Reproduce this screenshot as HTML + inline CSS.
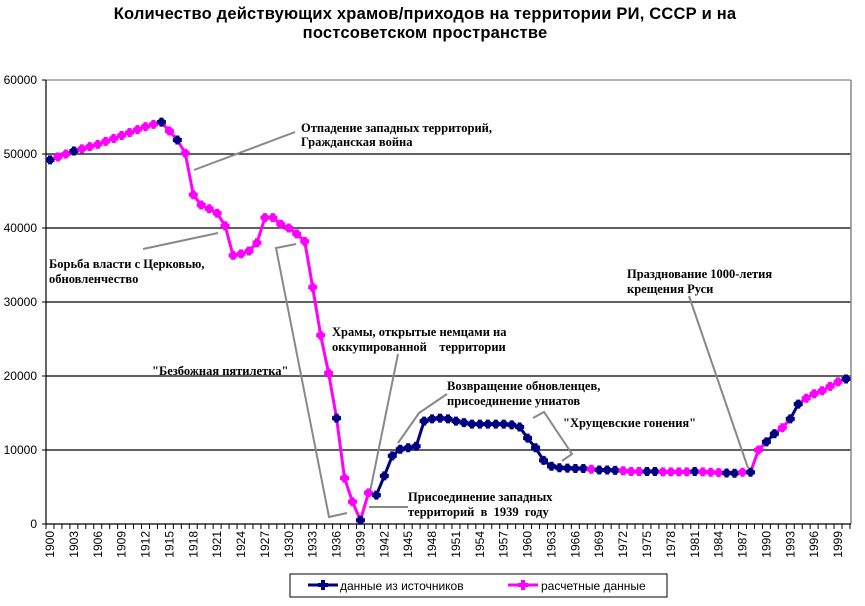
<!DOCTYPE html>
<html><head><meta charset="utf-8"><style>
html,body{margin:0;padding:0;background:#fff;width:865px;height:606px;overflow:hidden}
svg{display:block}
.t{font-family:"Liberation Sans",Arial,sans-serif;font-weight:bold;font-size:16.5px;letter-spacing:0.2px}
.ax{font-family:"Liberation Sans",Arial,sans-serif;font-size:12px}
.an{font-family:"Liberation Serif","Times New Roman",serif;font-weight:bold;font-size:12.5px}
</style></head><body>
<svg id="s" width="865" height="606" xmlns="http://www.w3.org/2000/svg">
<text class="t" x="425" y="19" text-anchor="middle">Количество действующих храмов/приходов на территории РИ, СССР и на</text>
<text class="t" x="425" y="38" text-anchor="middle">постсоветском пространстве</text>
<g id="grid"></g>
<line x1="851" y1="80" x2="851" y2="524" stroke="#888" stroke-width="1.5"/>
<line x1="46" y1="80" x2="46" y2="524" stroke="#000" stroke-width="1.2"/>
<line x1="46" y1="524" x2="851" y2="524" stroke="#000" stroke-width="1.2"/>
<g id="ann" stroke="#888" stroke-width="2" fill="none">
<polyline points="295,132 194,170"/>
<polyline points="143,249 218,233"/>
<polyline points="296,244 276,248 329,517 347,513"/>
<polyline points="398,354 370,492"/>
<polyline points="369,507 408,507"/>
<polyline points="447,394 419,413 398,443"/>
<polyline points="533,418 544,412 572,454 562,461"/>
<polyline points="689,296 748,468"/>
</g>
<g class="an">
<text x="301" y="132">Отпадение западных территорий,</text>
<text x="301" y="146">Гражданская война</text>
<text x="49" y="268">Борьба власти с Церковью,</text>
<text x="49" y="283">обновленчество</text>
<text x="152" y="375">"Безбожная пятилетка"</text>
<text x="332" y="336">Храмы, открытые немцами на</text>
<text x="332" y="351">оккупированной&#160;&#160;&#160;&#160;территории</text>
<text x="447" y="390">Возвращение обновленцев,</text>
<text x="447" y="405">присоединение униатов</text>
<text x="563" y="427">"Хрущевские гонения"</text>
<text x="408" y="501">Присоединение западных</text>
<text x="408" y="516">территорий&#160; в&#160; 1939&#160; году</text>
<text x="627" y="278">Празднование 1000-летия</text>
<text x="627" y="293">крещения Руси</text>
</g>
<g id="data"></g>
<g id="xl"></g>
<rect x="290" y="574" width="377" height="23" fill="#fff" stroke="#000" stroke-width="1"/>
<line x1="308" y1="585" x2="338" y2="585" stroke="#000080" stroke-width="3"/>
<path d="M323,580v10M318,585h10" stroke="#000080" stroke-width="4"/>
<text class="ax" x="340" y="590">данные из источников</text>
<line x1="508" y1="585" x2="538" y2="585" stroke="#ff00ff" stroke-width="3"/>
<path d="M523,580v10M518,585h10" stroke="#ff00ff" stroke-width="4"/>
<text class="ax" x="541" y="590">расчетные данные</text>
</svg>
<script>
var NS="http://www.w3.org/2000/svg";
function el(p,n,a,txt){var e=document.createElementNS(NS,n);for(var k in a)e.setAttribute(k,a[k]);if(txt!=null)e.textContent=txt;p.appendChild(e);return e;}
var X=function(y){return 50+(y-1900)*7.96;}, Y=function(v){return 524-v*0.0074;};
var g=document.getElementById('grid');
for(var i=0;i<=6;i++){var y=Y(i*10000);
 if(i>0)el(g,'line',{x1:46,y1:y,x2:851,y2:y,stroke:i==6?'#888':'#000','stroke-width':1.2});
 el(g,'line',{x1:42,y1:y,x2:46,y2:y,stroke:'#000'});
 el(g,'text',{'class':'ax',x:37,y:y+4,'text-anchor':'end'},String(i*10000));}
var xl=document.getElementById('xl');
for(var i=0;i<=101;i++){var x=46+i*7.96;el(xl,'line',{x1:x,y1:524,x2:x,y2:529,stroke:'#000'});}
for(var yr=1900;yr<=1999;yr+=3){var x=X(yr)+4;el(xl,'text',{'class':'ax',transform:'translate('+x+',531) rotate(-90)','text-anchor':'end'},String(yr));}
var d={1900:49200,1901:49600,1902:50000,1903:50400,1904:50700,1905:51000,1906:51300,1907:51700,1908:52100,1909:52500,1910:52900,1911:53300,1912:53700,1913:54000,1914:54300,1915:53100,1916:51900,1917:50100,1918:44500,1919:43100,1920:42600,1921:42000,1922:40300,1923:36300,1924:36500,1925:36900,1926:38000,1927:41400,1928:41400,1929:40500,1930:40000,1931:39200,1932:38200,1933:32000,1934:25500,1935:20400,1936:14300,1937:6200,1938:3000,1939:500,1940:4200,1941:3900,1942:6500,1943:9200,1944:10100,1945:10300,1946:10500,1947:13900,1948:14200,1949:14300,1950:14200,1951:13900,1952:13700,1953:13500,1954:13500,1955:13500,1956:13500,1957:13500,1958:13400,1959:13100,1960:11600,1961:10300,1962:8600,1963:7800,1964:7600,1965:7550,1966:7500,1967:7500,1968:7400,1969:7300,1970:7300,1971:7250,1972:7200,1973:7100,1974:7100,1975:7100,1976:7100,1977:7050,1978:7050,1979:7050,1980:7050,1981:7100,1982:7050,1983:7000,1984:6950,1985:6900,1986:6850,1987:7000,1988:7000,1989:10000,1990:11100,1991:12200,1992:13000,1993:14200,1994:16200,1995:17000,1996:17600,1997:18000,1998:18600,1999:19200,2000:19600};
var navy={1900:1,1903:1,1914:1,1916:1,1936:1,1939:1,1969:1,1970:1,1971:1,1975:1,1976:1,1981:1,1985:1,1986:1,1988:1,1990:1,1991:1,1993:1,1994:1,2000:1};
for(var y=1941;y<=1967;y++)navy[y]=1;
var D=document.getElementById('data');
for(var y=1900;y<2000;y++){var c=(navy[y]&&navy[y+1])?'#000080':'#ff00ff';
 el(D,'line',{x1:X(y),y1:Y(d[y]),x2:X(y+1),y2:Y(d[y+1]),stroke:c,'stroke-width':3});}
for(var y=1900;y<=2000;y++){var c=navy[y]?'#000080':'#ff00ff',x=X(y),v=Y(d[y]);
 el(D,'path',{d:'M'+x+','+(v-4.5)+'v9M'+(x-4.5)+','+v+'h9',stroke:c,'stroke-width':4});
 el(D,'rect',{x:x-3,y:v-3,width:6,height:6,fill:c});}
</script>
</body></html>
